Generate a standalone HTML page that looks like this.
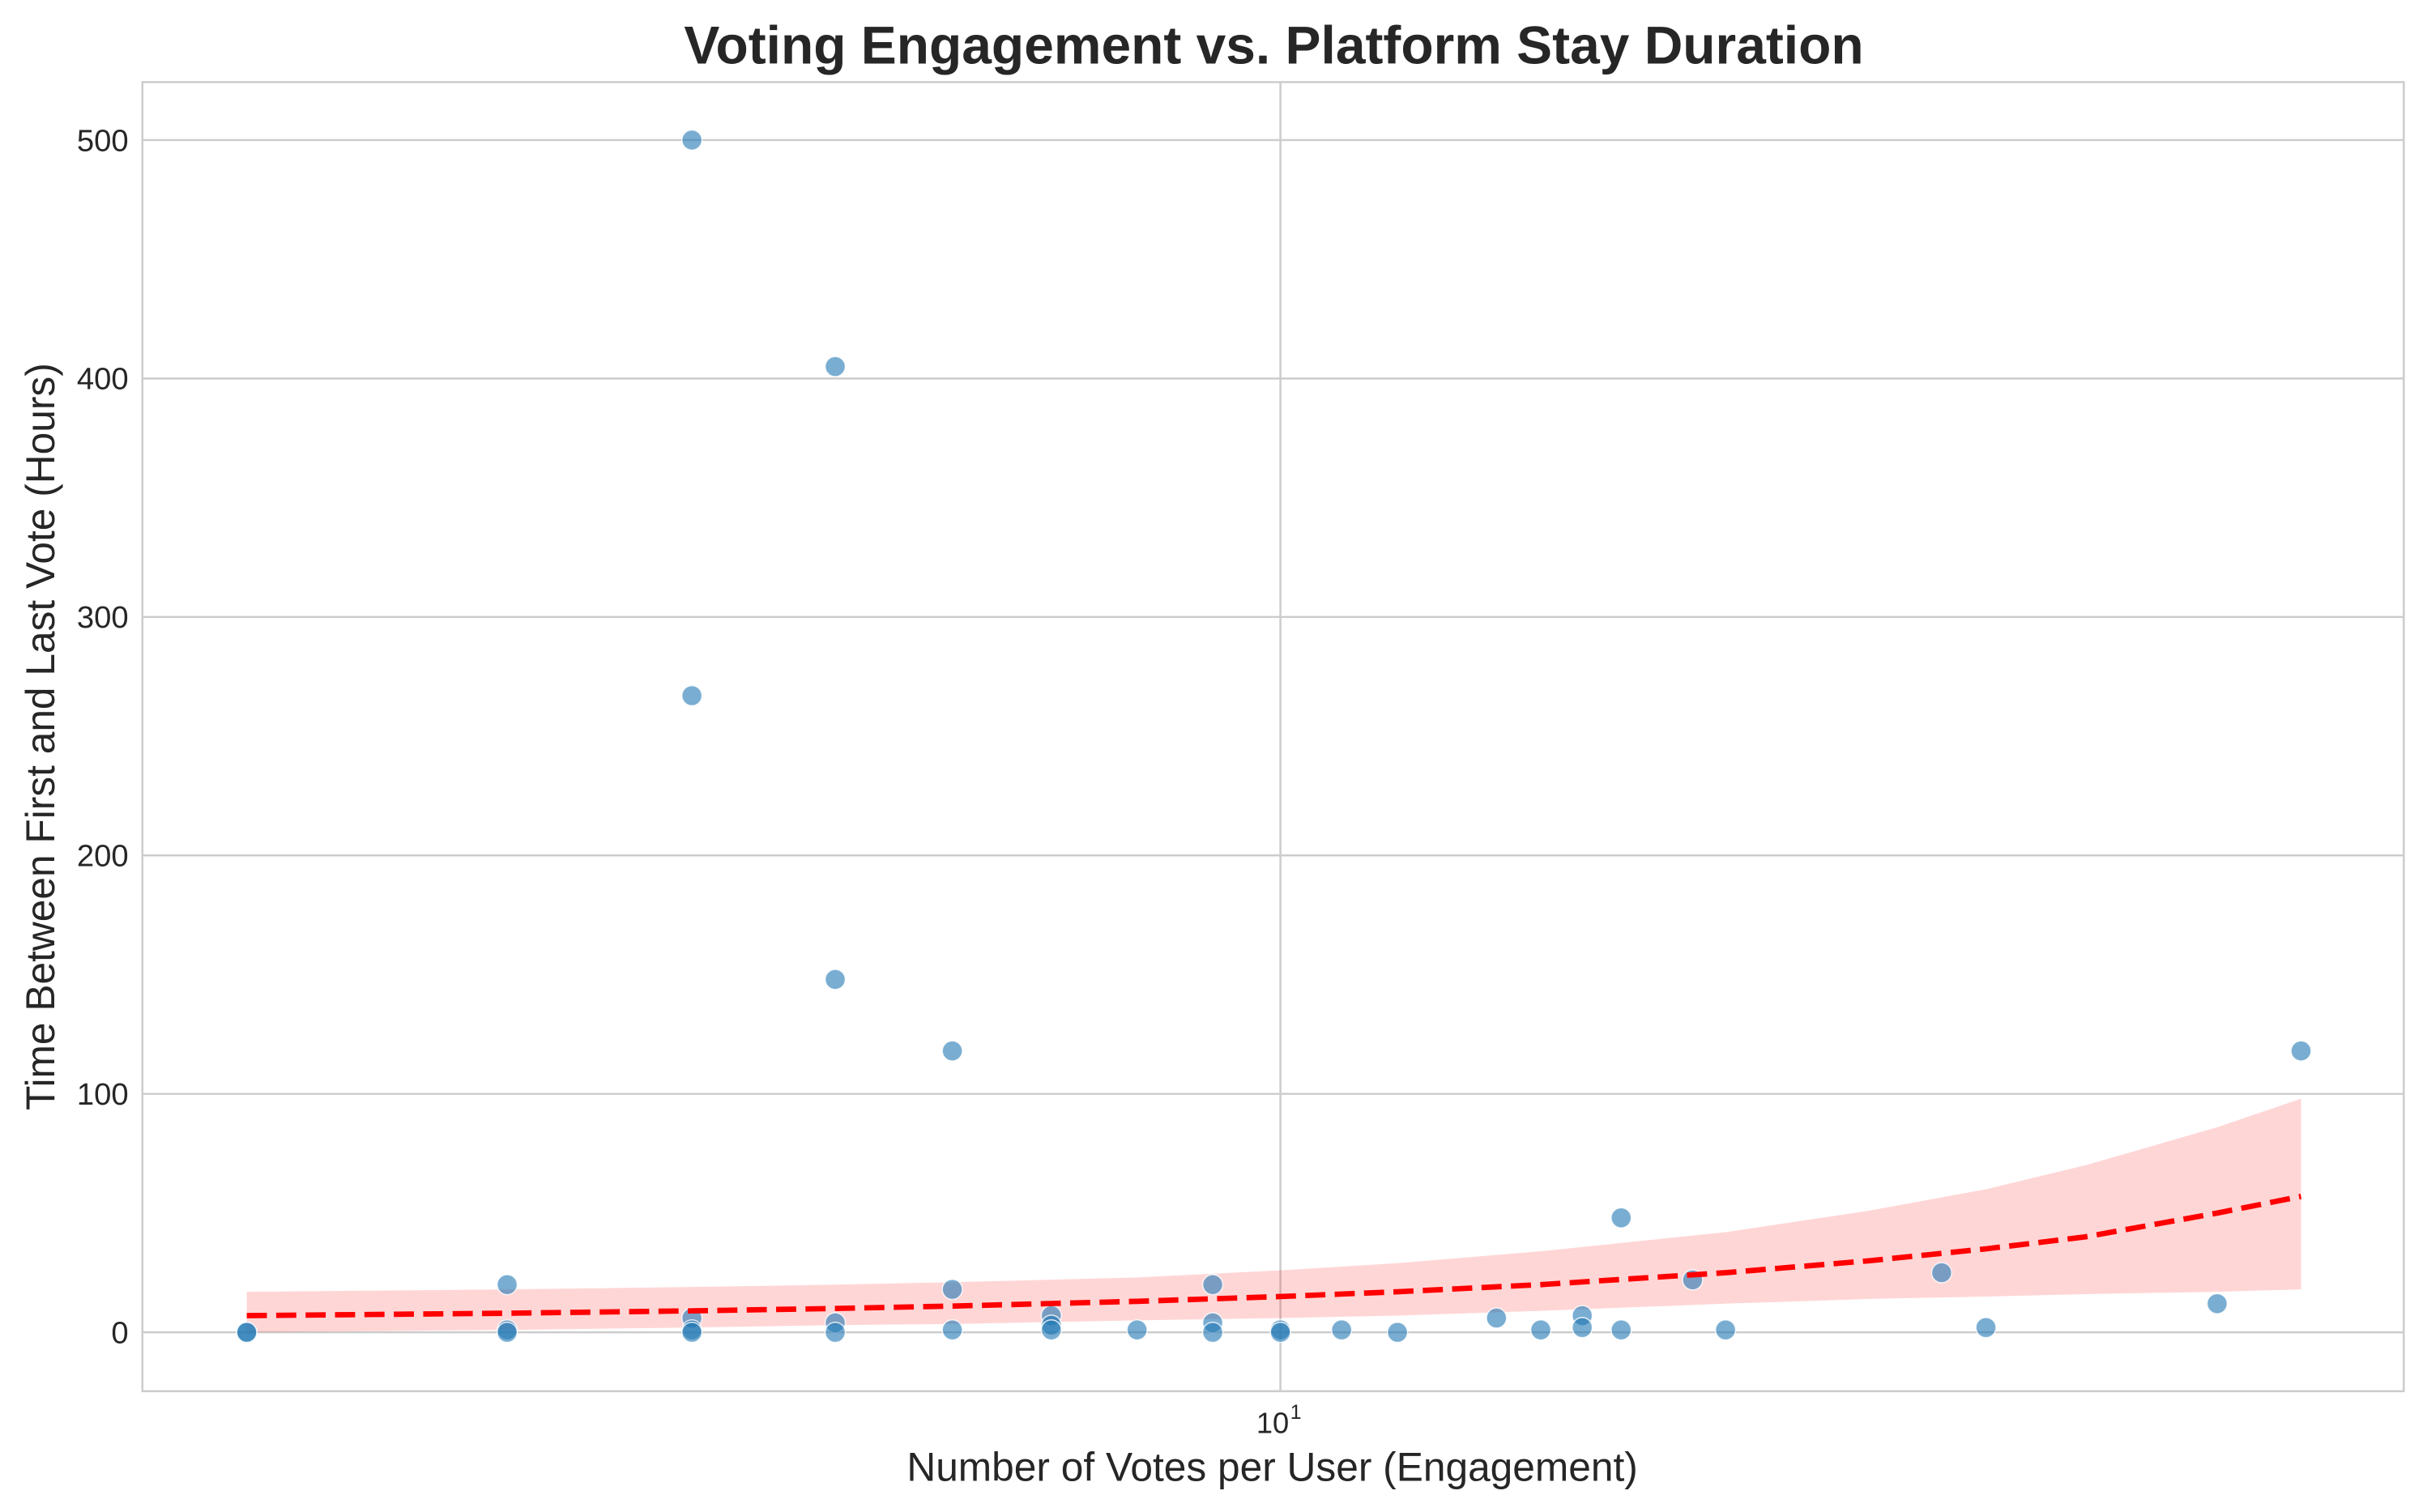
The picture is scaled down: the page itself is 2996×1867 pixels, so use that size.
<!DOCTYPE html>
<html><head><meta charset="utf-8"><style>
html,body{margin:0;padding:0;background:#fff}
svg{display:block}
text{font-family:"Liberation Sans",sans-serif;fill:#262626}
</style></head><body>
<svg id="chart" width="2996" height="1867" viewBox="0 0 1568 977" xmlns="http://www.w3.org/2000/svg">
<rect width="1568" height="977" fill="#fff"/>
<g id="grid"></g>
<g id="band"></g>
<g id="pts"></g>
<g id="trend"></g>
<rect x="92" y="53" width="1461" height="846" fill="none" stroke="#cccccc" stroke-width="1.3"/>
<g id="ticks"></g>
<text x="823" y="41" text-anchor="middle" font-size="34.5" font-weight="bold">Voting Engagement vs. Platform Stay Duration</text>
<text x="822" y="957" text-anchor="middle" font-size="26">Number of Votes per User (Engagement)</text>
<text transform="translate(35,476) rotate(-90)" text-anchor="middle" font-size="26">Time Between First and Last Vote (Hours)</text>
</svg>
<script>
const votes = [2,2,3,3,3,4,4,4,4,4,5,5,5,5,6,6,6,7,7,7,8,9,9,9,10,10,11,12,14,15,16,16,17,17,19,20,28,30,43,49];
const hours = [0,0,20,1,0,500,267,6,1,0,405,148,4,0,118,18,1,7,3,1,1,20,4,0,1,0,1,0,6,1,7,2,48,1,22,1,25,2,12,118];
const trendX = [2,3,4,5,6,8,10,12,15,20,25,30,35,43,49];
const trendFit = [7,8,9,10,11,13,15,17,20,25,30,35,40,50,57];
const trendLow = [0,1,2,3,3.5,5,6,7,9,12,14,15,16,17,18];
const trendHigh = [17,18,19,20,21,23,26,29,34,42,51,60,70,86,98];
const yTicks = [0,100,200,300,400,500];
const xTickVals = [10];
const xTickLabels = ["10"];

const NS="http://www.w3.org/2000/svg";
const L=92,R=1553,T=53,B=899;
const xmin=Math.log10(1.70), xmax=Math.log10(57.5);
const ymin=-24.7, ymax=524.3;
const xs=v=>L+(Math.log10(v)-xmin)/(xmax-xmin)*(R-L);
const ys=v=>B-(v-ymin)/(ymax-ymin)*(B-T);
function mk(tag,attrs,parent){const e=document.createElementNS(NS,tag);for(const k in attrs)e.setAttribute(k,attrs[k]);parent.appendChild(e);return e;}

const grid=document.getElementById('grid'), ticks=document.getElementById('ticks');
yTicks.forEach(t=>{
  const l=mk('line',{x1:L,x2:R,y1:ys(t),y2:ys(t),stroke:'#cccccc','stroke-width':1.3},grid);
  
  
  const tx=mk('text',{x:L-9,y:ys(t)+7,'text-anchor':'end','font-size':20},ticks);
  tx.textContent=t;
  
  
});
xTickVals.forEach((t,i)=>{
  const l=mk('line',{x1:xs(t),x2:xs(t),y1:T,y2:B,stroke:'#cccccc','stroke-width':1.3},grid);
  
  
  const tx=mk('text',{x:xs(t)-5,y:B+27,'text-anchor':'middle','font-size':19},ticks);
  tx.textContent=xTickLabels[i];
  
  
  const sp=mk('text',{x:xs(t)+10,y:B+18,'text-anchor':'middle','font-size':13},ticks);
  sp.textContent='1';
  
  
});

let d='';
trendX.forEach((x,i)=>{d+=(i?'L':'M')+xs(x)+','+ys(trendHigh[i]);});
for(let i=trendX.length-1;i>=0;i--)d+='L'+xs(trendX[i])+','+ys(trendLow[i]);
const band=mk('path',{d:d+'Z',fill:'#ff0000','fill-opacity':0.16,stroke:'none'},document.getElementById('band'));



const pts=document.getElementById('pts');
votes.forEach((v,i)=>{
  const c=mk('circle',{cx:xs(v),cy:ys(hours[i]),r:6.5,fill:'#1f77b4','fill-opacity':0.6,stroke:'#ffffff','stroke-width':0.8,'stroke-opacity':0.8},pts);
  
  
});

let td='';
trendX.forEach((x,i)=>{td+=(i?'L':'M')+xs(x)+','+ys(trendFit[i]);});
const tl=mk('path',{d:td,fill:'none',stroke:'#ff0000','stroke-width':3.5,'stroke-dasharray':'13,6'},document.getElementById('trend'));


</script>
</body></html>
